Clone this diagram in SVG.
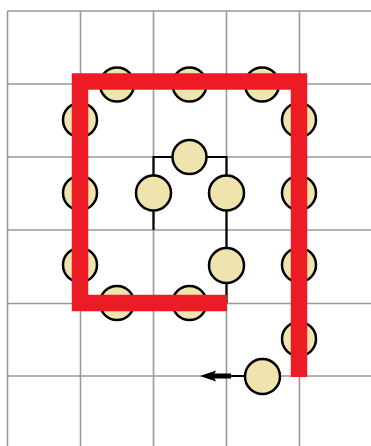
<svg xmlns="http://www.w3.org/2000/svg" width="371" height="446" viewBox="0 0 371 446">
<style>
.grid{stroke:#999;stroke-width:1.6;fill:none}
.node{fill:#EFE3AE;stroke:#000;stroke-width:2.5}
.wire{stroke:#000;stroke-width:2.2;fill:none}
.red{stroke:#ED1C24;stroke-width:16.5;fill:none;stroke-linejoin:miter;stroke-linecap:butt}
</style>
<rect width="371" height="446" fill="#fff"/>
<g id="grid" class="grid">
<path d="M7.5 11V446M80.5 11V446M153.5 11V446M226.5 11V446M299.5 11V446"/>
<path d="M7.5 11H371M7.5 84H371M7.5 157H371M7.5 230H371M7.5 303.5H371M7.5 376H371"/>
</g>
<g id="connectors">
<path class="wire" d="M153.5 230V157H226.5V303"/>
<path class="wire" d="M245 376H206"/>
<path d="M214 373.5H231V378.5H214Z" fill="#000"/>
<path d="M200 376L216 370.5L213.5 376L216 381.5Z" fill="#000"/>
</g>
<g id="n1"><circle class="node" cx="117" cy="84.5" r="17"/></g>
<g id="n2"><circle class="node" cx="189.5" cy="84.5" r="17"/></g>
<g id="n3"><circle class="node" cx="262" cy="84.5" r="17"/></g>
<g id="n4"><circle class="node" cx="80" cy="120" r="17"/></g>
<g id="n5"><circle class="node" cx="80" cy="193" r="17"/></g>
<g id="n6"><circle class="node" cx="80" cy="265" r="17"/></g>
<g id="n7"><circle class="node" cx="299" cy="120" r="17"/></g>
<g id="n8"><circle class="node" cx="299" cy="193" r="17"/></g>
<g id="n9"><circle class="node" cx="299" cy="265" r="17"/></g>
<g id="n10"><circle class="node" cx="299" cy="339" r="17"/></g>
<g id="n11"><circle class="node" cx="117" cy="303" r="17"/></g>
<g id="n12"><circle class="node" cx="189.5" cy="303" r="17"/></g>
<g id="n13"><circle class="node" cx="189.5" cy="157" r="17"/></g>
<g id="n14"><circle class="node" cx="153.5" cy="193" r="17.5"/></g>
<g id="n15"><circle class="node" cx="226.5" cy="193" r="17.5"/></g>
<g id="n16"><circle class="node" cx="226.5" cy="265.5" r="17.5"/></g>
<g id="n17"><circle class="node" cx="262.5" cy="376.5" r="17.5"/></g>
<g id="path">
<path class="red" d="M227 303H80V81.5H299V377"/>
</g>
</svg>
